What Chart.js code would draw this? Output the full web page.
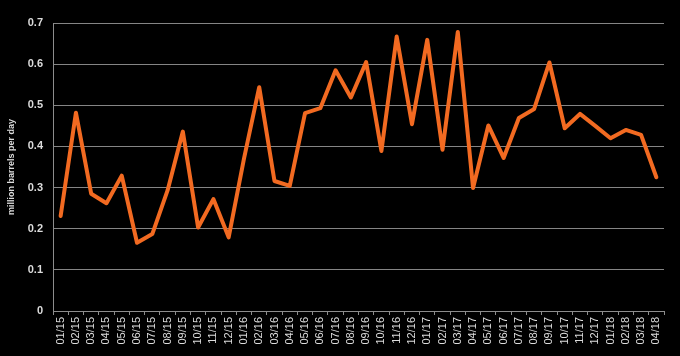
<!DOCTYPE html>
<html>
<head>
<meta charset="utf-8">
<script src="https://cdn.jsdelivr.net/npm/chart.js@4/dist/chart.umd.min.js"></script>
<style>
html,body{margin:0;padding:0;background:#000;}
#wrap{width:680px;height:356px;}
</style>
</head>
<body>
<div id="wrap"><canvas id="c" width="680" height="356"></canvas></div>
<script>
const months = ["01/15","02/15","03/15","04/15","05/15","06/15","07/15","08/15","09/15","10/15","11/15","12/15",
"01/16","02/16","03/16","04/16","05/16","06/16","07/16","08/16","09/16","10/16","11/16","12/16",
"01/17","02/17","03/17","04/17","05/17","06/17","07/17","08/17","09/17","10/17","11/17","12/17",
"01/18","02/18","03/18","04/18"];
const production = [0.231,0.482,0.285,0.262,0.329,0.166,0.187,0.293,0.436,0.203,0.272,0.179,
0.37,0.544,0.316,0.304,0.481,0.493,0.585,0.519,0.605,0.389,0.667,0.454,
0.659,0.392,0.678,0.299,0.451,0.372,0.469,0.491,0.604,0.444,0.479,0.450,
0.420,0.440,0.428,0.325];
const yTicks = [0,0.1,0.2,0.3,0.4,0.5,0.6,0.7];
const yTitle = "million barrels per day";

const bgPlugin = {
  id:'bg',
  beforeDraw(chart){
    const ctx = chart.ctx;
    ctx.save();
    ctx.fillStyle = '#000';
    ctx.fillRect(0,0,chart.width,chart.height);
    ctx.restore();
  }
};

new Chart(document.getElementById('c'), {
  type:'line',
  data:{
    labels: months,
    datasets:[{
      data: production,
      borderColor:'#f26a21',
      borderWidth:4,
      pointRadius:0,
      tension:0,
      fill:false,
      borderJoinStyle:'round',
      borderCapStyle:'round'
    }]
  },
  options:{
    responsive:false,
    animation:false,
    devicePixelRatio:1,
    layout:{padding:{left:0,right:16,top:23,bottom:0}},
    plugins:{legend:{display:false},tooltip:{enabled:false}},
    scales:{
      x:{
        type:'category',
        offset:true,
        afterFit(s){ s.height = 45; },
        grid:{offset:true,drawOnChartArea:false,drawTicks:true,tickLength:4,color:'#8c8c8c',lineWidth:1},
        border:{display:true,color:'#8c8c8c',width:1},
        ticks:{
          autoSkip:false,maxRotation:90,minRotation:90,padding:2,
          color:'#dcdcdc',
          font:{family:'"Liberation Sans", Arial, sans-serif',size:11}
        }
      },
      y:{
        min:0,max:0.7,
        afterFit(s){ s.width = 53; },
        afterBuildTicks(s){ s.ticks = yTicks.map(v=>({value:v})); },
        grid:{color:'#858585',lineWidth:1,drawTicks:false},
        border:{display:true,color:'#8c8c8c',width:1},
        ticks:{
          padding:10,
          color:'#dcdcdc',
          font:{family:'"Liberation Sans", Arial, sans-serif',size:11,weight:'bold'},
          callback:(v)=>String(Math.round(v*10)/10)
        },
        title:{
          display:true,text:yTitle,color:'#dcdcdc',padding:{top:6,bottom:0},
          font:{family:'"Liberation Sans", Arial, sans-serif',size:9,weight:'bold'}
        }
      }
    }
  },
  plugins:[bgPlugin]
});
</script>
</body>
</html>
